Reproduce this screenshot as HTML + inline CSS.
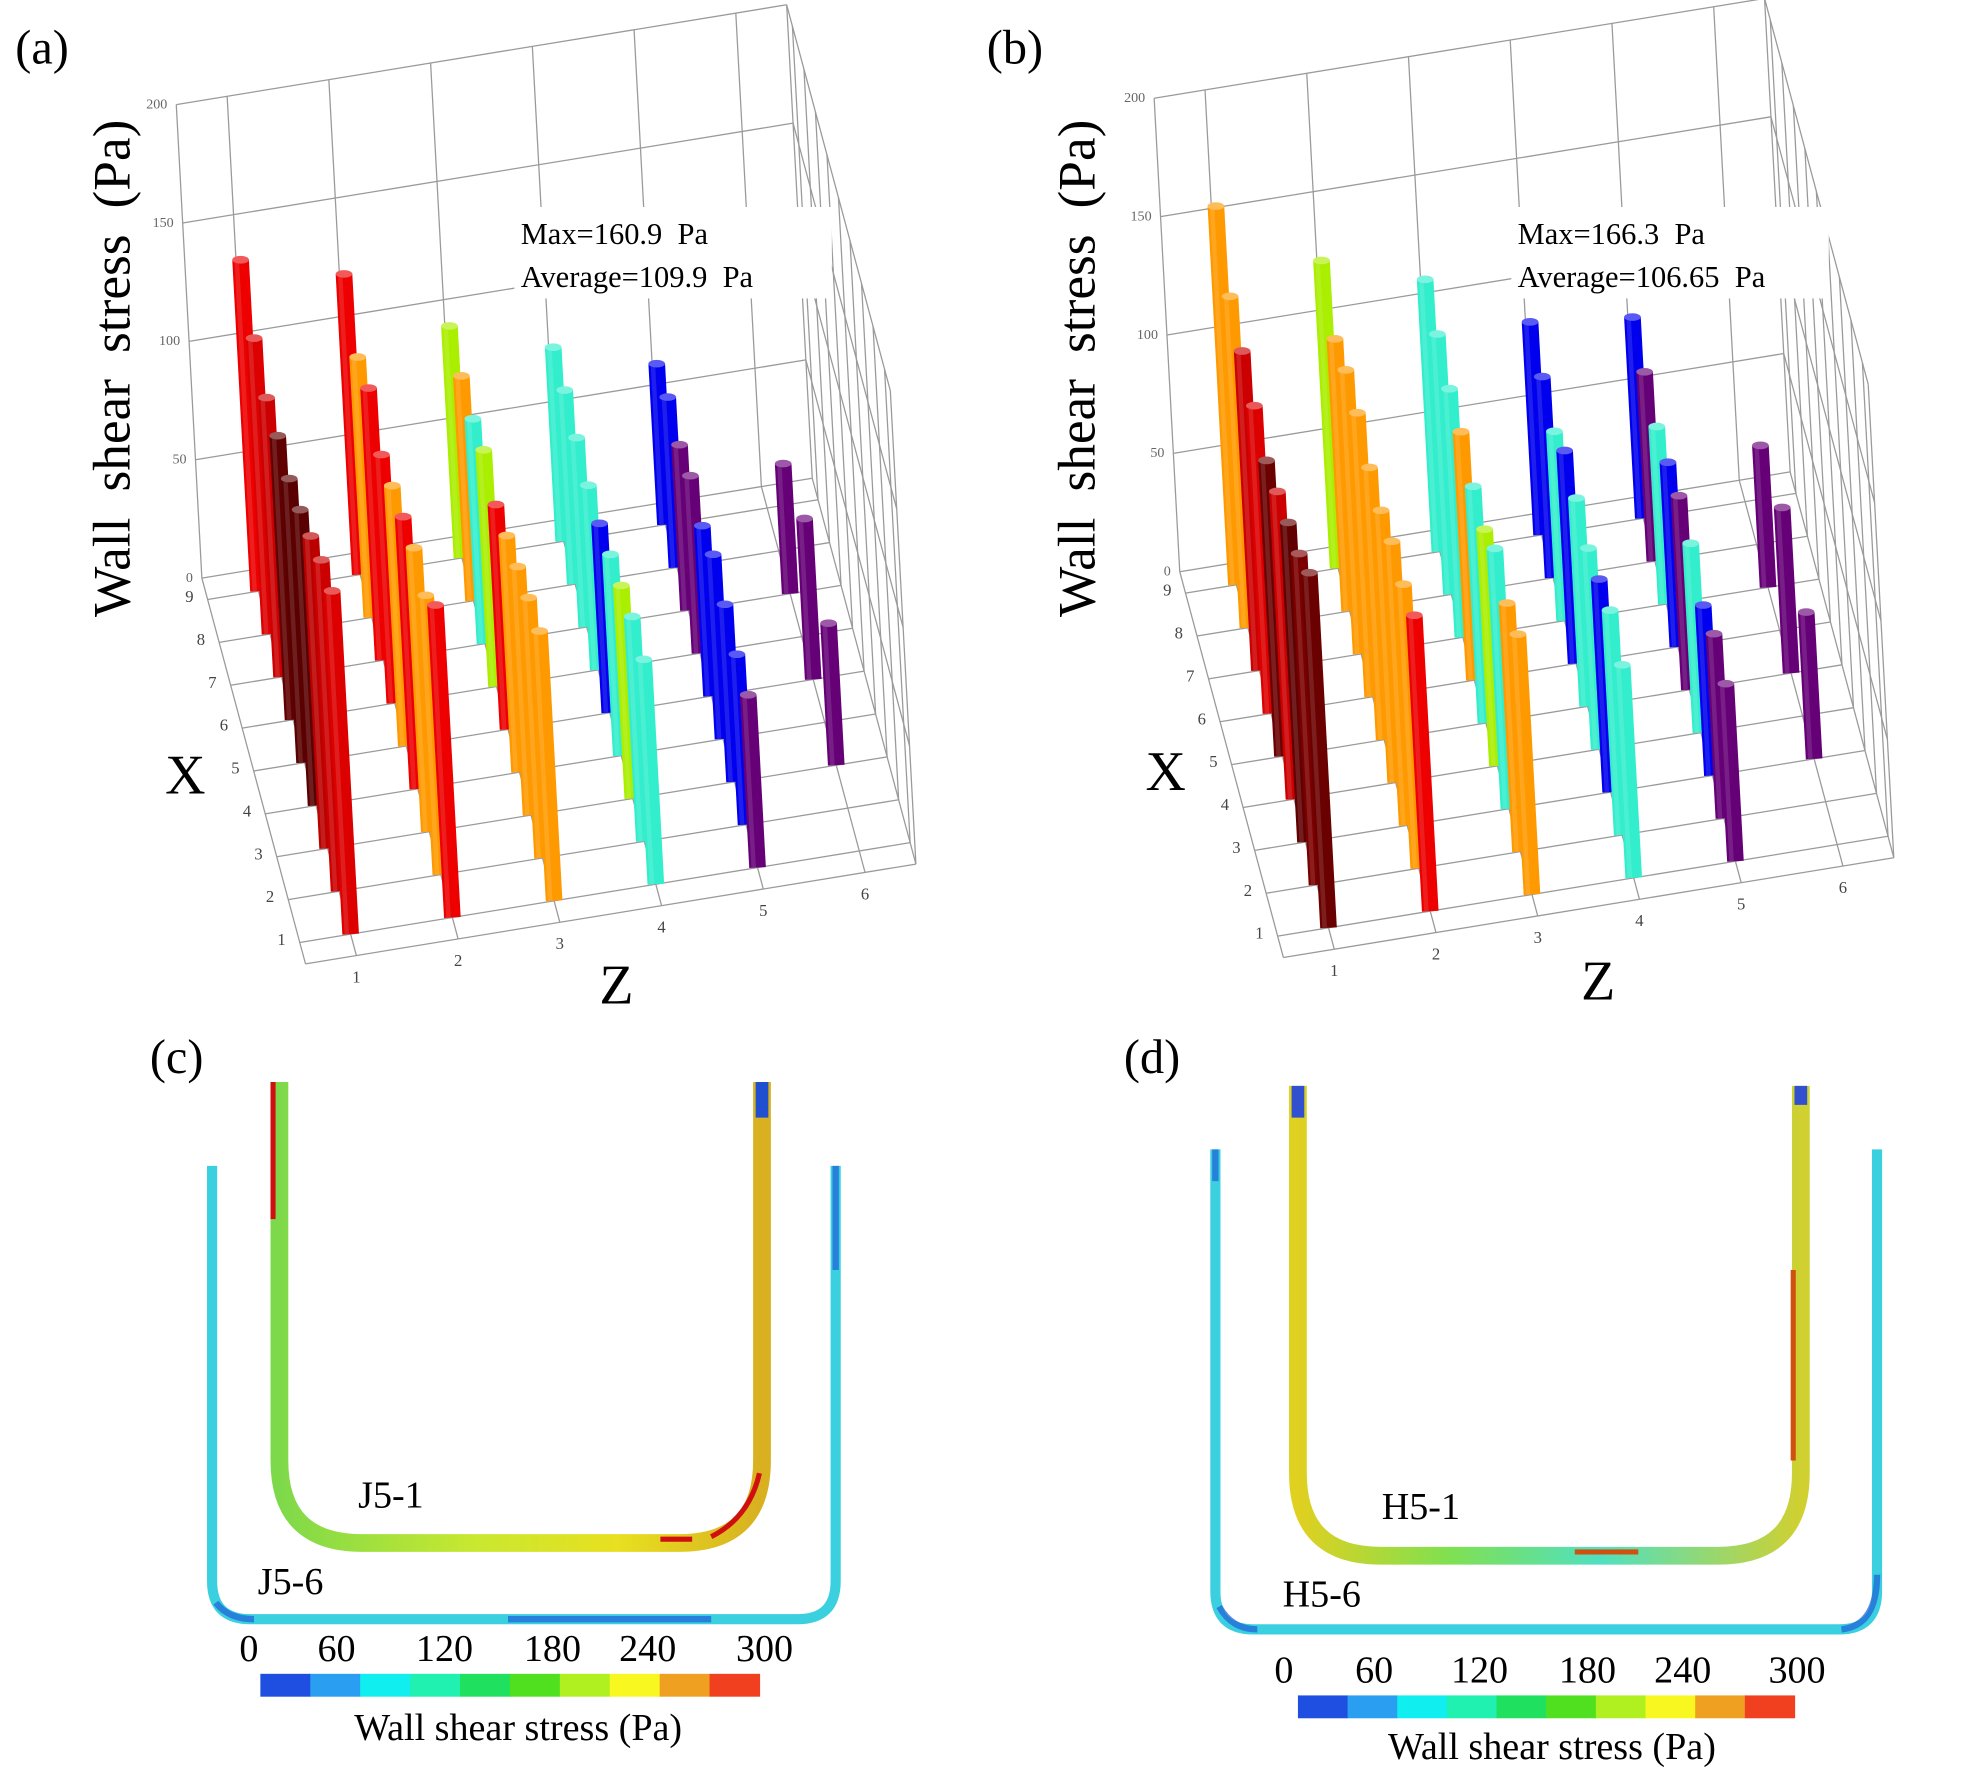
<!DOCTYPE html>
<html><head><meta charset="utf-8"><style>
html,body{margin:0;padding:0;background:#fff;}
svg{display:block;}
text{font-family:"Liberation Serif",serif;}
</style></head><body>
<svg id="root" width="1985" height="1772" viewBox="0 0 1563 1395.3" xmlns="http://www.w3.org/2000/svg">
<defs>
<linearGradient id="innerGrad" x1="0" x2="1" y1="0" y2="0">
<stop offset="0" stop-color="#7ed94a"/><stop offset="0.4" stop-color="#c8e830"/><stop offset="0.7" stop-color="#e8e020"/><stop offset="1" stop-color="#d8b020"/>
</linearGradient>
<linearGradient id="innerGrad2" x1="0" x2="1" y1="0" y2="0">
<stop offset="0" stop-color="#e0d020"/><stop offset="0.3" stop-color="#80e050"/><stop offset="0.6" stop-color="#50e0c0"/><stop offset="1" stop-color="#d0d030"/>
</linearGradient>
</defs>
<g id="panelA" transform="scale(0.5038)"></g>
<g id="panelB" transform="translate(770,-5) scale(0.5038)"></g>

<text x="12" y="50" font-size="38">(a)</text>
<text x="777" y="50" font-size="38">(b)</text>
<text transform="translate(102,290) rotate(-90)" text-anchor="middle" font-size="42" word-spacing="10">Wall shear stress (Pa)</text>
<text transform="translate(862,290) rotate(-90)" text-anchor="middle" font-size="42" word-spacing="10">Wall shear stress (Pa)</text>
<text x="130" y="625" font-size="44">X</text>
<text x="472" y="790" font-size="44">Z</text>
<text x="902" y="622" font-size="44">X</text>
<text x="1245" y="787" font-size="44">Z</text>
<rect x="405" y="163" width="250" height="72" fill="#fff"/>
<text x="410" y="192" font-size="24" xml:space="preserve">Max=160.9  Pa</text>
<text x="410" y="226" font-size="24" xml:space="preserve">Average=109.9  Pa</text>
<rect x="1190" y="163" width="250" height="72" fill="#fff"/>
<text x="1195" y="192" font-size="24" xml:space="preserve">Max=166.3  Pa</text>
<text x="1195" y="226" font-size="24" xml:space="preserve">Average=106.65  Pa</text>

<!-- panel c -->
<text x="118" y="845" font-size="38">(c)</text>
<g>
<path d="M167,918 V1245 Q167,1275 197,1275 H628 Q658,1275 658,1245 V918" fill="none" stroke="#3ad0e0" stroke-width="8"/>
<path d="M658,918 V1000 M170,1262 Q180,1275 200,1275 M400,1275 H560" fill="none" stroke="#2060d8" stroke-width="5" opacity="0.7"/>
</g>
<g>
<path d="M220,852 V1150 Q220,1215 285,1215 H535 Q600,1215 600,1150 V852" fill="none" stroke="url(#innerGrad)" stroke-width="14"/>
<path d="M215,852 V960 M600,852 V870 M545,1212 H520 M598,1160 Q590,1195 560,1210" fill="none" stroke="#d01010" stroke-width="4"/>
<path d="M600,852 V880" stroke="#2050d0" stroke-width="10"/>
</g>
<text x="282" y="1187" font-size="30">J5-1</text>
<text x="203" y="1255" font-size="30">J5-6</text>
<g id="cbarC"></g>
<text x="408" y="1370" text-anchor="middle" font-size="30">Wall shear stress (Pa)</text>

<!-- panel d -->
<text x="885" y="845" font-size="38">(d)</text>
<g>
<path d="M957,905 V1253 Q957,1283 987,1283 H1448 Q1478,1283 1478,1253 V905" fill="none" stroke="#3ad0e0" stroke-width="8"/>
<path d="M957,905 V930 M1478,1240 Q1478,1280 1450,1283 M960,1265 Q970,1283 990,1283" fill="none" stroke="#2060d8" stroke-width="5" opacity="0.7"/>
</g>
<g>
<path d="M1022,855 V1160 Q1022,1225 1087,1225 H1353 Q1418,1225 1418,1160 V855" fill="none" stroke="url(#innerGrad2)" stroke-width="14"/>
<path d="M1022,855 V880 M1418,855 V870" stroke="#3050d0" stroke-width="10"/>
<path d="M1412,1000 V1150 M1240,1222 H1290" fill="none" stroke="#d05010" stroke-width="4"/>
</g>
<text x="1088" y="1196" font-size="30">H5-1</text>
<text x="1010" y="1265" font-size="30">H5-6</text>
<g id="cbarD"></g>
<text x="1222" y="1385" text-anchor="middle" font-size="30">Wall shear stress (Pa)</text>
</svg>
<script>
// ---------- chart data ----------
const xCats = [1,2,3,4,5,6,7,8,9];
const zCats = [1,2,3,4,5,6];
const hTicks = [0,50,100,150,200];
// panel (a) values per z row, indexed by x
const aZ1 = [145,140,132,125,120,120,118,125,140];
const aZ2 = [132,118,120,115,110,105,115,110,127];
const aZ3 = [114,110,105,100,95,100,95,95,98];
const aZ4 = [95,95,90,85,80,78,80,82,82];
const aZ5 = [73,72,75,78,72,75,70,72,68];
const aZ6 = [null,null,60,null,68,null,55,null,null];
const aColZ1 = ['#dd0000','#cc0000','#bb0000','#5a0000','#5a0000','#600000','#cc0000','#dd0000','#ee0000'];
const aColZ2 = ['#ee0000','#ff9900','#ff9900','#ee0000','#ff9900','#ee0000','#ee0000','#ff9900','#ee0000'];
const aColZ3 = ['#ff9900','#ff9900','#ff9900','#ff9900','#ee0000','#aaee00','#33eecc','#ff9900','#aaee00'];
const aColZ4 = ['#33eecc','#33eecc','#aaee00','#33eecc','#0000ee','#33eecc','#33eecc','#33eecc','#33eecc'];
const aColZ5 = ['#660077','#0000ee','#0000ee','#0000ee','#0000ee','#660077','#660077','#0000ee','#0000ee'];
const aColZ6 = ['#660077','#660077','#660077','#660077','#660077','#660077','#660077','#660077','#660077'];
// panel (b)
const bZ1 = [150,140,135,130,125,130,135,140,160];
const bZ2 = [125,120,120,115,115,120,120,115,130];
const bZ3 = [110,105,110,100,100,105,105,110,115];
const bZ4 = [90,95,90,85,88,90,80,85,90];
const bZ5 = [75,78,72,80,82,78,75,80,85];
const bZ6 = [null,null,62,null,70,null,60,null,null];
const bColZ1 = ['#6b0000','#7a0000','#600000','#cc0000','#6b0000','#dd0000','#cc0000','#ff9900','#ff9900'];
const bColZ2 = ['#ee0000','#ff9900','#ff9900','#ff9900','#ff9900','#ff9900','#ff9900','#ff9900','#aaee00'];
const bColZ3 = ['#ff9900','#ff9900','#33eecc','#aaee00','#33eecc','#ff9900','#33eecc','#33eecc','#33eecc'];
const bColZ4 = ['#33eecc','#33eecc','#0000ee','#33eecc','#33eecc','#0000ee','#33eecc','#0000ee','#0000ee'];
const bColZ5 = ['#660077','#660077','#0000ee','#33eecc','#660077','#0000ee','#33eecc','#660077','#0000ee'];
const bColZ6 = aColZ6;
// colorbar
const cbarLabels = [0,60,120,180,240,300];
const cbarColors = ['#1f4fe0','#2a9ef0','#10eef0','#20f0b0','#20e060','#50e020','#b0f020','#f8f820','#f0a020','#f04020'];

const NS='http://www.w3.org/2000/svg';
function mk(tag, attrs, parent){const e=document.createElementNS(NS,tag);for(const k in attrs)e.setAttribute(k,attrs[k]);parent.appendChild(e);return e;}
// projection (axis function)
function P(z,x,h){return [407+159*z-18*x-0.2*h, 1553-26*z-67*x-3.7*h];}
function shade(hex,f){const n=parseInt(hex.slice(1),16);let r=(n>>16)&255,g=(n>>8)&255,b=n&255;r=Math.min(255,Math.round(r+(255-r)*f));g=Math.min(255,Math.round(g+(255-g)*f));b=Math.min(255,Math.round(b+(255-b)*f));return `rgb(${r},${g},${b})`;}

function drawChart(g, rows, cols, prefix){
  const grid='#9a9a9a';
  function line(a,b,name){const l=mk('line',{x1:a[0],y1:a[1],x2:b[0],y2:b[1],stroke:grid,'stroke-width':2},g);
    
    }
  xCats.forEach(x=>line(P(0.5,x,0),P(6.5,x,0),'floor-gridline'));
  zCats.forEach(z=>line(P(z,0.5,0),P(z,9.5,0),'floor-gridline'));
  line(P(0.5,0.5,0),P(6.5,0.5,0),'floor-edge');line(P(0.5,0.5,0),P(0.5,9.5,0),'floor-edge');
  hTicks.forEach(h=>line(P(0.5,9.5,h),P(6.5,9.5,h),'back-wall-gridline'));
  zCats.forEach(z=>line(P(z,9.5,0),P(z,9.5,200),'back-wall-gridline'));
  line(P(0.5,9.5,0),P(0.5,9.5,200),'y-axis-line');line(P(6.5,9.5,0),P(6.5,9.5,200),'wall-edge');
  hTicks.forEach(h=>line(P(6.5,0.5,h),P(6.5,9.5,h),'side-wall-gridline'));
  xCats.forEach(x=>line(P(6.5,x,0),P(6.5,x,200),'side-wall-gridline'));
  line(P(6.5,0.5,0),P(6.5,0.5,200),'wall-edge');
  hTicks.forEach(h=>{const p=P(0.5,9.5,h);const t=mk('text',{x:p[0]-14,y:p[1]+6,'font-size':22,'text-anchor':'end',fill:'#666'},g);t.textContent=h;
    
    });
  xCats.forEach(x=>{const p=P(0.5,x,0);const t=mk('text',{x:p[0]-22,y:p[1]+4,'font-size':26,'text-anchor':'end',fill:'#444'},g);t.textContent=x;
    
    });
  zCats.forEach(z=>{const p=P(z,0.5,0);const t=mk('text',{x:p[0],y:p[1]+42,'font-size':26,'text-anchor':'middle',fill:'#444'},g);t.textContent=z;
    
    });
  for(let xi=xCats.length-1;xi>=0;xi--){
    for(let zi=0;zi<zCats.length;zi++){
      const v=rows[zi][xi]; if(v==null) continue;
      const b=P(zCats[zi],xCats[xi],0), t=P(zCats[zi],xCats[xi],v), c=cols[zi][xi];
      const bar=mk('line',{x1:b[0],y1:b[1],x2:t[0],y2:t[1],stroke:c,'stroke-width':26},g);
      
      
      const hl=mk('line',{x1:b[0]-6,y1:b[1],x2:t[0]-6,y2:t[1],stroke:shade(c,0.2),'stroke-width':7,opacity:0.6},g);
      
      
      const cap=mk('ellipse',{cx:t[0],cy:t[1],rx:13,ry:6,fill:shade(c,0.35)},g);
      
      
    }
  }
}
drawChart(document.getElementById('panelA'),[aZ1,aZ2,aZ3,aZ4,aZ5,aZ6],[aColZ1,aColZ2,aColZ3,aColZ4,aColZ5,aColZ6],'panel-a');
drawChart(document.getElementById('panelB'),[bZ1,bZ2,bZ3,bZ4,bZ5,bZ6],[bColZ1,bColZ2,bColZ3,bColZ4,bColZ5,bColZ6],'panel-b');

function drawCbar(g,x0,x1,y,h,labY,labXs){
  const w=(x1-x0)/cbarColors.length;
  cbarColors.forEach((c,i)=>{const r=mk('rect',{x:x0+i*w,y:y,width:w+0.5,height:h,fill:c},g);
    
    });
  cbarLabels.forEach((v,i)=>{const t=mk('text',{x:labXs[i],y:labY,'font-size':30,'text-anchor':'middle'},g);t.textContent=v;
    
    });
}
drawCbar(document.getElementById('cbarC'),205,598,1318,18,1308,[196,265,350,435,510,602]);
drawCbar(document.getElementById('cbarD'),1022,1413,1335,18,1325,[1011,1082,1165,1250,1325,1415]);
</script>
</body></html>
